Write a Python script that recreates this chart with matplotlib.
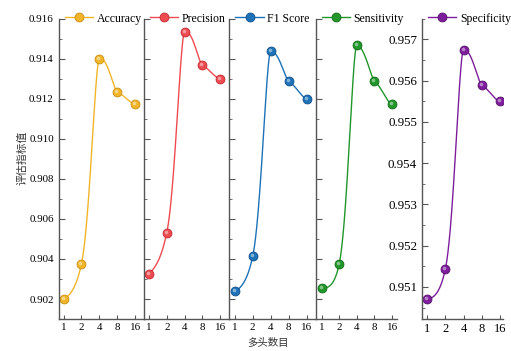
import matplotlib
matplotlib.use('Agg')
import matplotlib.pyplot as plt
from matplotlib.lines import Line2D
from matplotlib.transforms import offset_copy
import numpy as np

plt.rcParams['font.family'] = ['Liberation Serif', 'Noto Sans CJK SC']
plt.rcParams['axes.unicode_minus'] = False

# data
heads = [1, 2, 4, 8, 16]
names = ['Accuracy', 'Precision', 'F1 Score', 'Sensitivity', 'Specificity']
accuracy = [0.9020, 0.90376, 0.9140, 0.91235, 0.91174]
precision = [0.90327, 0.90532, 0.91533, 0.91368, 0.91300]
f1_score = [0.90238, 0.90413, 0.91436, 0.91288, 0.91201]
sensitivity = [0.90253, 0.90375, 0.91467, 0.91290, 0.91173]
specificity = [0.95070, 0.95144, 0.95675, 0.95590, 0.95550]
series = [accuracy, precision, f1_score, sensitivity, specificity]
colors = ['#F2B52A', '#EE4B50', '#1D72B8', '#21962A', '#7E1E9C']
edges = ['#C98E10', '#C0292F', '#0F4F8A', '#0E6E16', '#56106D']


def akima_curve(x, y, n=300):
    # Akima-style smooth line through the points, evaluated densely
    x = np.asarray(x, float)
    y = np.asarray(y, float)
    k = len(x)
    h = np.diff(x)
    m = np.diff(y) / h
    me = np.empty(k + 3)
    me[2:k + 1] = m
    me[1] = 2 * m[0] - m[1]
    me[0] = 2 * me[1] - m[0]
    me[k + 1] = 2 * m[-1] - m[-2]
    me[k + 2] = 2 * me[k + 1] - m[-1]
    tg = np.zeros(k)
    for i in range(1, k - 1):
        w1 = abs(me[i + 3] - me[i + 2])
        w2 = abs(me[i + 1] - me[i])
        if w1 + w2 == 0:
            tg[i] = 0.5 * (me[i + 1] + me[i + 2])
        else:
            tg[i] = (w1 * me[i + 1] + w2 * me[i + 2]) / (w1 + w2)
    # end tangents (one-sided three point, clamped)
    t0 = ((2 * h[0] + h[1]) * m[0] - h[0] * m[1]) / (h[0] + h[1])
    tg[0] = t0 if np.sign(t0) == np.sign(m[0]) else 0.0
    tn = ((2 * h[-1] + h[-2]) * m[-1] - h[-1] * m[-2]) / (h[-1] + h[-2])
    tg[-1] = tn if np.sign(tn) == np.sign(m[-1]) else 0.0

    xs = np.logspace(np.log2(x[0]), np.log2(x[-1]), n, base=2)
    ys = np.empty_like(xs)
    for j, xv in enumerate(xs):
        i = min(max(np.searchsorted(x, xv, side='right') - 1, 0), k - 2)
        t = (xv - x[i]) / h[i]
        h00 = 2 * t ** 3 - 3 * t ** 2 + 1
        h10 = t ** 3 - 2 * t ** 2 + t
        h01 = -2 * t ** 3 + 3 * t ** 2
        h11 = t ** 3 - t ** 2
        ys[j] = (h00 * y[i] + h10 * h[i] * tg[i] + h01 * y[i + 1]
                 + h11 * h[i] * tg[i + 1])
    return xs, ys


fig = plt.figure(figsize=(5.11, 3.51), dpi=100)
bottom, height = 0.091, 0.856
boxes = [(0.1149, 0.1673), (0.2818, 0.1673), (0.4490, 0.1690),
         (0.6178, 0.1600), (0.8258, 0.1585)]
xlims = [(-0.27, 4.5), (-0.28, 4.52), (-0.29, 4.5), (-0.33, 4.3), (-0.29, 4.17)]

spine_col = '#555555'
for k, (vals, name) in enumerate(zip(series, names)):
    left, width = boxes[k]
    ax = fig.add_axes([left, bottom, width, height])
    ax.set_xscale('log', base=2)
    ax.set_xlim(2 ** xlims[k][0], 2 ** xlims[k][1])
    if k < 4:
        ax.set_ylim(0.901, 0.916)
    else:
        ax.set_ylim(0.95022, 0.9575)

    xs, ys = akima_curve(heads, vals)
    ax.plot(xs, ys, color=colors[k], lw=1.0)
    ax.plot(heads, vals, 'o', color=colors[k], mec=edges[k], mew=0.6, ms=6.4)
    hl = offset_copy(ax.transData, fig=fig, x=-1.0, y=1.0, units='dots')
    ax.plot(heads, vals, 'o', color='white', alpha=0.45, mew=0, ms=2.6,
            transform=hl)

    ax.set_xticks(heads)
    ax.set_xticklabels([str(h) for h in heads])
    ax.minorticks_off()
    for s in ['top', 'right']:
        ax.spines[s].set_visible(False)
    for s in ['left', 'bottom']:
        ax.spines[s].set_color(spine_col)
        ax.spines[s].set_linewidth(1.0)
    if k < 4:
        ax.set_yticks(np.arange(0.902, 0.9161, 0.002))
        ax.set_yticks(np.arange(0.901, 0.9161, 0.001), minor=True)
        ax.tick_params(axis='y', which='major', direction='in', length=4,
                       color=spine_col, labelsize=7.9)
        ax.tick_params(axis='y', which='minor', direction='in', length=2,
                       color=spine_col)
        ax.tick_params(axis='x', direction='in', length=3, color=spine_col,
                       labelsize=7.9, pad=3)
        if k == 0:
            ax.set_yticklabels(['%.3f' % v for v in np.arange(0.902, 0.9161, 0.002)])
        else:
            ax.tick_params(axis='y', labelleft=False)
    else:
        ax.set_yticks(np.arange(0.951, 0.95701, 0.001))
        ax.set_yticklabels(['%.3f' % v for v in np.arange(0.951, 0.95701, 0.001)])
        ax.set_yticks(np.arange(0.9505, 0.9575, 0.0005), minor=True)
        ax.tick_params(axis='y', which='major', direction='in', length=4,
                       color=spine_col, labelsize=9.4)
        ax.tick_params(axis='y', which='minor', direction='in', length=2,
                       color=spine_col)
        ax.tick_params(axis='x', direction='in', length=3, color=spine_col,
                       labelsize=9, pad=3)
    handle = Line2D([], [], color=colors[k], lw=1.0, marker='o', ms=6.4,
                    mec=edges[k], mew=0.6)
    ax.legend([handle], [name], loc='center left', bbox_to_anchor=(0.0, 1.0),
              frameon=False, fontsize=8.5, handlelength=2.4,
              handletextpad=0.3, borderpad=0.0, borderaxespad=0.5)

fig.text(0.043, 0.55, '评估指标值', rotation=90, ha='center', va='center',
         fontsize=7.8, color='#333333')
fig.text(0.525, 0.023, '多头数目', ha='center', va='center', fontsize=7.5,
         color='#333333')

fig.savefig('out.png', dpi=100)
